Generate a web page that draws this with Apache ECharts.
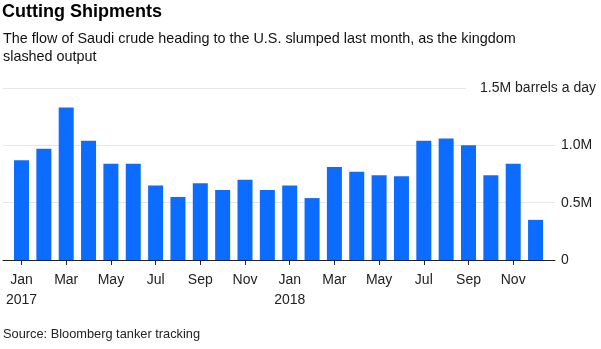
<!DOCTYPE html>
<html>
<head>
<meta charset="utf-8">
<script src="https://cdn.jsdelivr.net/npm/echarts@6/dist/echarts.min.js"></script>
<style>
html,body{margin:0;padding:0;background:#fff;}
#chart{width:601px;height:349px;}
</style>
</head>
<body>
<div id="chart"></div>
<script>
// Monthly categories Jan 2017 .. Dec 2018
const months = ['Jan','Feb','Mar','Apr','May','Jun','Jul','Aug','Sep','Oct','Nov','Dec',
                'Jan','Feb','Mar','Apr','May','Jun','Jul','Aug','Sep','Oct','Nov','Dec'];
const years = ['2017','2017','2017','2017','2017','2017','2017','2017','2017','2017','2017','2017',
               '2018','2018','2018','2018','2018','2018','2018','2018','2018','2018','2018','2018'];
// Saudi crude shipments to the U.S., million barrels a day
const values = [0.87, 0.97, 1.33, 1.04, 0.84, 0.84, 0.65, 0.55, 0.67, 0.61, 0.70, 0.61,
                0.65, 0.54, 0.81, 0.77, 0.74, 0.73, 1.04, 1.06, 1.00, 0.74, 0.84, 0.35];
// Labelled months (every other month)
const tickIdx = [0, 2, 4, 6, 8, 10, 12, 14, 16, 18, 20, 22];
const yTicks = [0, 0.5, 1.0, 1.5];

const FONT = '"Liberation Sans", Arial, Helvetica, sans-serif';
const chart = echarts.init(document.getElementById('chart'), null, {renderer: 'canvas'});

const option = {
  backgroundColor: '#fff',
  animation: false,
  textStyle: {fontFamily: FONT},
  title: [
    {text: 'Cutting Shipments', left: 2, top: 3, padding: 0,
     textStyle: {fontFamily: FONT, fontSize: 18, fontWeight: 'bold', color: '#000'}},
    {text: 'The flow of Saudi crude heading to the U.S. slumped last month, as the kingdom\nslashed output',
     left: 3, top: 30, padding: 0,
     textStyle: {fontFamily: FONT, fontSize: 14.4, fontWeight: 'normal', color: '#111', lineHeight: 18}},
    {text: 'Source: Bloomberg tanker tracking', left: 3, top: 326, padding: 0,
     textStyle: {fontFamily: FONT, fontSize: 12.8, fontWeight: 'normal', color: '#222', lineHeight: 16}}
  ],
  grid: {left: 3, right: 46, top: 88, bottom: 89, containLabel: false},
  xAxis: {
    type: 'value',
    min: -0.828,
    max: 23.87,
    splitLine: {show: false},
    axisLine: {show: true, lineStyle: {color: '#222', width: 1}},
    axisTick: {show: true, customValues: tickIdx, length: 5, lineStyle: {color: '#222'}},
    axisLabel: {
      customValues: tickIdx,
      margin: 10,
      fontSize: 14,
      lineHeight: 20,
      color: '#222',
      fontFamily: FONT,
      formatter: function (v) {
        const i = Math.round(v);
        return i % 12 === 0 ? months[i] + '\n' + years[i] : months[i];
      }
    }
  },
  yAxis: [
    {
      type: 'value',
      position: 'right',
      min: 0, max: 1.5, interval: 0.5,
      axisLine: {show: false},
      axisTick: {show: false},
      splitLine: {show: true, lineStyle: {color: '#e6e6e6', width: 1}},
      axisLabel: {
        margin: 6, fontSize: 14, color: '#222', fontFamily: FONT,
        formatter: function (v) {
          if (v === 0) return '0';
          if (v >= 1.5) return '';
          return v.toFixed(1) + 'M';
        }
      }
    },
    {
      type: 'value',
      position: 'right',
      min: 0, max: 1.5, interval: 0.5,
      axisLine: {show: false},
      axisTick: {show: false},
      splitLine: {show: false},
      axisLabel: {
        margin: 41, align: 'right', fontSize: 14, color: '#222', fontFamily: FONT,
        formatter: function (v) { return v >= 1.5 ? '{t|1.5M barrels a day}' : ''; },
        rich: {
          t: {fontSize: 14, color: '#222', fontFamily: FONT,
              backgroundColor: '#fff', padding: [2, 0, 2, 14]}
        }
      }
    }
  ],
  series: [{
    type: 'bar',
    barWidth: 15,
    itemStyle: {color: '#0b6cff'},
    data: values.map(function (v, i) { return [i, v]; })
  }]
};
chart.setOption(option);
</script>
</body>
</html>
